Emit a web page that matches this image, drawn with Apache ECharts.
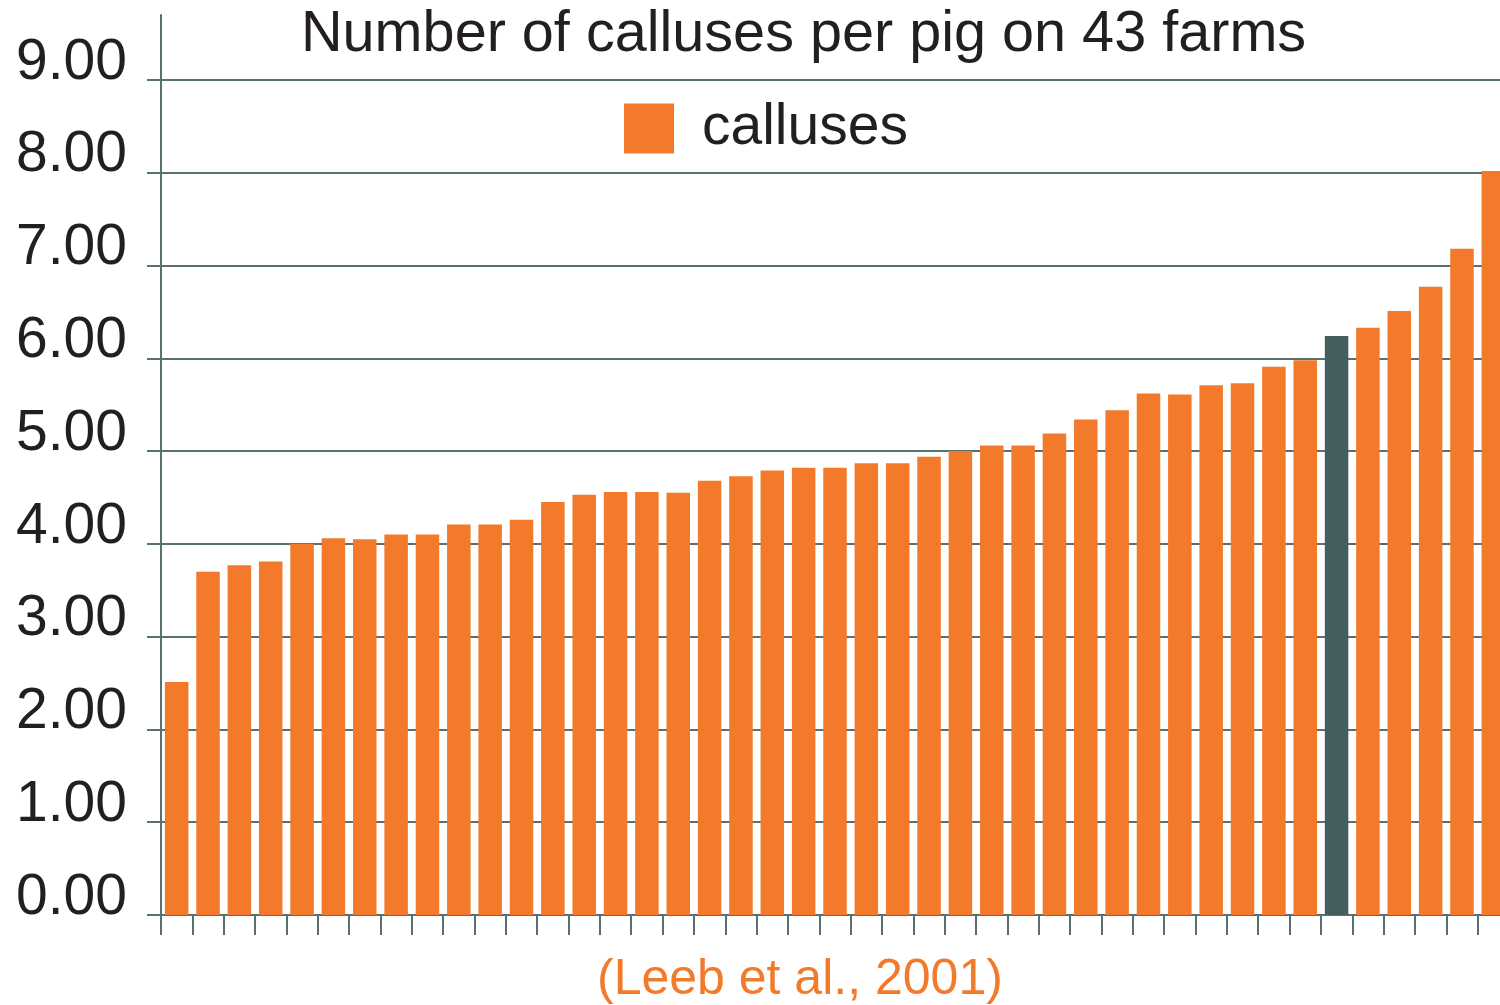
<!DOCTYPE html>
<html lang="en">
<head>
    <meta charset="UTF-8">
    <title>Calluses per pig</title>
    <script type="text/javascript" src="https://cdn.jsdelivr.net/npm/echarts@6/dist/echarts.min.js"></script>
</head>
<body style="margin:0;">
<div id="main" style="width: 1500px;height:1005px;"></div>
<script type="text/javascript">
    // farms sorted by number of calluses per pig
    var farms = [];
    for (var i = 1; i <= 43; i++) farms.push('Farm ' + i);
    var calluses = [2.51, 3.70, 3.77, 3.81, 4.00, 4.06, 4.05, 4.10, 4.10, 4.21,
        4.21, 4.26, 4.45, 4.53, 4.56, 4.56, 4.55, 4.68, 4.73, 4.79,
        4.82, 4.82, 4.87, 4.87, 4.94, 5.00, 5.06, 5.06, 5.19, 5.34,
        5.44, 5.62, 5.61, 5.71, 5.73, 5.91, 5.98, 6.24, 6.33, 6.51,
        6.77, 7.18, 8.02];
    var highlightIndex = 37;
    var yTicks = [0, 1, 2, 3, 4, 5, 6, 7, 8, 9];

    var orange = '#F37A2B';
    var dark = '#465D5E';
    var axisColor = '#587070';
    var font = 'Liberation Sans, Arial, sans-serif';

    var myChart = echarts.init(document.getElementById('main'));

    var option = {
        animation: false,
        title: [
            {
                text: 'Number of calluses per pig on 43 farms',
                left: 301,
                top: 6,
                padding: 0,
                textStyle: {fontFamily: font, fontSize: 57.6, fontWeight: 'normal', color: '#231F20'}
            },
            {
                text: '(Leeb et al., 2001)',
                left: 597,
                top: 955,
                padding: 0,
                textStyle: {fontFamily: font, fontSize: 50, fontWeight: 'normal', color: orange}
            }
        ],
        legend: {
            left: 624,
            top: 100,
            padding: 0,
            icon: 'rect',
            itemWidth: 50,
            itemHeight: 50,
            data: ['calluses'],
            textStyle: {fontFamily: font, fontSize: 57, color: '#231F20', padding: [0, 0, 0, 23]}
        },
        grid: {
            left: 161,
            top: 15,
            width: 1348,
            height: 900,
            outerBoundsMode: 'none',
            containLabel: false
        },
        xAxis: {
            type: 'category',
            data: farms,
            axisLine: {lineStyle: {color: axisColor, width: 2}},
            axisTick: {show: true, length: 20, interval: 0, lineStyle: {color: axisColor, width: 2}},
            axisLabel: {show: false},
            splitLine: {show: false}
        },
        yAxis: {
            type: 'value',
            min: 0,
            max: 9.7,
            interval: 1,
            axisLine: {show: true, lineStyle: {color: axisColor, width: 2}},
            axisTick: {show: true, length: 14, customValues: yTicks, lineStyle: {color: axisColor, width: 2}},
            axisLabel: {
                customValues: yTicks,
                margin: 34,
                verticalAlign: 'bottom',
                lineHeight: 34,
                fontFamily: font,
                fontSize: 57,
                color: '#231F20',
                formatter: function (v) { return v.toFixed(2); }
            },
            splitLine: {show: true, lineStyle: {color: axisColor, width: 2}}
        },
        series: [
            {
                name: 'calluses',
                type: 'bar',
                barCategoryGap: '25%',
                itemStyle: {color: orange},
                data: calluses.map(function (v, i) {
                    return i === highlightIndex ? {value: v, itemStyle: {color: dark}} : v;
                })
            }
        ]
    };

    myChart.setOption(option);
</script>
</body>
</html>
